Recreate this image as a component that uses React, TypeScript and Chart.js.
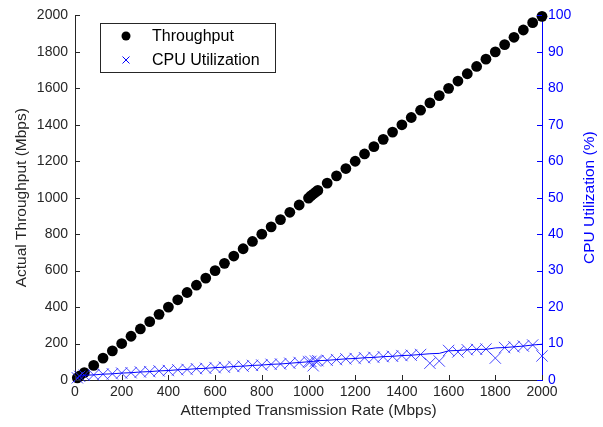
import React, { useEffect, useRef } from "react";
import { Chart, registerables } from "chart.js";

Chart.register(...registerables);

const attemptedRate = [10, 20, 40, 80, 120, 160, 200, 240, 280, 320, 360, 400, 440, 480, 520, 560, 600, 640, 680, 720, 760, 800, 840, 880, 920, 960, 1000, 1010, 1020, 1030, 1040, 1080, 1120, 1160, 1200, 1240, 1280, 1320, 1360, 1400, 1440, 1480, 1520, 1560, 1600, 1640, 1680, 1720, 1760, 1800, 1840, 1880, 1920, 1960, 2000];

const throughput = [12, 22, 41, 80, 120, 160, 200, 240, 280, 320, 360, 400, 440, 480, 520, 559, 600, 640, 680, 720, 760, 800, 840, 880, 920, 960, 998, 1010, 1020, 1030, 1040, 1080, 1120, 1160, 1200, 1240, 1280, 1320, 1360, 1400, 1440, 1480, 1520, 1560, 1600, 1640, 1680, 1720, 1760, 1800, 1840, 1880, 1920, 1960, 1995];

const cpuUtil = [0.6, 1.0, 1.3, 1.4, 1.6, 1.7, 1.9, 2.0, 2.2, 2.3, 2.5, 2.6, 2.8, 2.9, 3.1, 3.2, 3.4, 3.5, 3.7, 3.8, 4.0, 4.1, 4.3, 4.4, 4.6, 4.8, 5.0, 5.1, 3.9, 5.2, 5.3, 5.4, 5.6, 5.8, 5.9, 6.1, 6.2, 6.4, 6.5, 6.7, 6.8, 7.0, 4.6, 5.2, 8.1, 7.7, 8.3, 8.4, 8.5, 6.0, 8.9, 9.1, 9.3, 9.6, 6.6];

const cpuTrend = [0.6, 1.0, 1.3, 1.4, 1.6, 1.7, 1.9, 2.0, 2.2, 2.3, 2.5, 2.6, 2.8, 2.9, 3.1, 3.2, 3.4, 3.5, 3.7, 3.8, 4.0, 4.1, 4.3, 4.4, 4.6, 4.8, 5.0, 5.1, 5.1, 5.2, 5.3, 5.4, 5.6, 5.8, 5.9, 6.1, 6.2, 6.4, 6.5, 6.7, 6.8, 7.0, 7.2, 7.3, 8.0, 8.1, 8.3, 8.4, 8.4, 8.8, 8.9, 9.1, 9.3, 9.6, 9.8];

const xTickValues = [0, 200, 400, 600, 800, 1000, 1200, 1400, 1600, 1800, 2000];
const leftTickValues = [0, 200, 400, 600, 800, 1000, 1200, 1400, 1600, 1800, 2000];
const rightTickValues = [0, 10, 20, 30, 40, 50, 60, 70, 80, 90, 100];

const legendLabels = ["Throughput", "CPU Utilization"];
const rightTitle = "CPU Utilization (%)";

const FONT = "'Liberation Sans', Arial, Helvetica, sans-serif";
const AXIS_GRAY = "#262626";
const BLUE = "#0000ff";

const inwardTicks = {
  id: "inwardTicks",
  afterDraw(chart: any) {
    const ctx = chart.ctx;
    const { x, y, y1 } = chart.scales;
    const area = chart.chartArea;
    const len = 5;
    ctx.save();
    ctx.lineWidth = 1;
    ctx.strokeStyle = AXIS_GRAY;
    ctx.beginPath();
    xTickValues.forEach((v) => {
      const px = Math.round(x.getPixelForValue(v)) + 0.5;
      ctx.moveTo(px, area.bottom);
      ctx.lineTo(px, area.bottom - len);
    });
    leftTickValues.forEach((v) => {
      const py = Math.round(y.getPixelForValue(v)) + 0.5;
      ctx.moveTo(area.left, py);
      ctx.lineTo(area.left + len, py);
    });
    ctx.stroke();
    ctx.strokeStyle = BLUE;
    ctx.beginPath();
    rightTickValues.forEach((v) => {
      const py = Math.round(y1.getPixelForValue(v)) + 0.5;
      ctx.moveTo(area.right, py);
      ctx.lineTo(area.right - len, py);
    });
    ctx.stroke();
    // right axis title, reading bottom-to-top
    ctx.fillStyle = BLUE;
    ctx.font = `15.5px ${FONT}`;
    ctx.textAlign = "center";
    ctx.textBaseline = "middle";
    ctx.translate(590, (area.top + area.bottom) / 2);
    ctx.rotate(-Math.PI / 2);
    ctx.fillText(rightTitle, 0, 0);
    ctx.restore();
  },
};

const boxLegend = {
  id: "boxLegend",
  afterDraw(chart: any) {
    const ctx = chart.ctx;
    ctx.save();
    const bx = 100.5, by = 23.5, bw = 175, bh = 49;
    ctx.fillStyle = "#ffffff";
    ctx.fillRect(bx, by, bw, bh);
    ctx.strokeStyle = AXIS_GRAY;
    ctx.lineWidth = 1;
    ctx.strokeRect(bx, by, bw, bh);
    ctx.fillStyle = "#000000";
    ctx.beginPath();
    ctx.arc(126, 36, 4.5, 0, Math.PI * 2);
    ctx.fill();
    ctx.strokeStyle = BLUE;
    ctx.beginPath();
    ctx.moveTo(122.5, 56.5);
    ctx.lineTo(129.5, 63.5);
    ctx.moveTo(129.5, 56.5);
    ctx.lineTo(122.5, 63.5);
    ctx.stroke();
    ctx.fillStyle = "#000000";
    ctx.font = `16px ${FONT}`;
    ctx.textBaseline = "middle";
    ctx.textAlign = "left";
    ctx.fillText(legendLabels[0], 152, 37);
    ctx.fillText(legendLabels[1], 152, 61);
    ctx.restore();
  },
};

const plain = (v: any) => String(v);

export default function App() {
  const ref = useRef<HTMLCanvasElement>(null);
  useEffect(() => {
    const canvas = ref.current!;
    Chart.defaults.font.family = FONT;
    const chart = new Chart(canvas, {
      type: "scatter",
      data: {
        datasets: [
          {
            label: legendLabels[0],
            data: attemptedRate.map((v, i) => ({ x: v, y: throughput[i] })),
            yAxisID: "y",
            pointStyle: "circle",
            pointRadius: 5.4,
            backgroundColor: "#000000",
            borderColor: "#000000",
            borderWidth: 0,
            showLine: false,
            order: 2,
            clip: false,
          } as any,
          {
            label: legendLabels[1],
            data: attemptedRate.map((v, i) => ({ x: v, y: cpuUtil[i] })),
            yAxisID: "y1",
            pointStyle: "crossRot",
            pointRadius: 8,
            borderColor: "rgba(40,40,255,0.85)",
            backgroundColor: "rgba(0,0,0,0)",
            borderWidth: 1,
            showLine: false,
            order: 1,
            clip: false,
          } as any,
          {
            label: "trend",
            data: attemptedRate.map((v, i) => ({ x: v, y: cpuTrend[i] })),
            yAxisID: "y1",
            pointRadius: 0,
            borderColor: BLUE,
            borderWidth: 1,
            showLine: true,
            fill: false,
            order: 0,
            clip: false,
          } as any,
        ],
      },
      options: {
        responsive: false,
        animation: false,
        events: [],
        layout: { padding: { top: 12, left: 0, right: 0, bottom: 0 } },
        plugins: {
          legend: { display: false },
          tooltip: { enabled: false },
        },
        scales: {
          x: {
            type: "linear",
            min: 0,
            max: 2000,
            afterFit: (s: any) => { s.height = 47; },
            afterBuildTicks: (s: any) => { s.ticks = xTickValues.map((v) => ({ value: v })); },
            ticks: { color: AXIS_GRAY, font: { size: 14 }, padding: 4, maxRotation: 0, autoSkip: false, callback: plain },
            grid: { display: false, drawTicks: false },
            border: { display: true, color: AXIS_GRAY, width: 1 },
            title: { display: true, text: "Attempted Transmission Rate (Mbps)", color: AXIS_GRAY, font: { size: 15.5 }, padding: { top: 0, bottom: 7 } },
          },
          y: {
            type: "linear",
            position: "left",
            min: 0,
            max: 2000,
            afterFit: (s: any) => { s.width = 75; },
            afterBuildTicks: (s: any) => { s.ticks = leftTickValues.map((v) => ({ value: v })); },
            ticks: { color: AXIS_GRAY, font: { size: 14 }, padding: 7, autoSkip: false, callback: plain },
            grid: { display: false, drawTicks: false },
            border: { display: true, color: AXIS_GRAY, width: 1 },
            title: { display: true, text: "Actual Throughput (Mbps)", color: AXIS_GRAY, font: { size: 15.5 }, padding: { top: 12, bottom: 0 } },
          },
          y1: {
            type: "linear",
            position: "right",
            min: 0,
            max: 100,
            afterFit: (s: any) => { s.width = 61; },
            afterBuildTicks: (s: any) => { s.ticks = rightTickValues.map((v) => ({ value: v })); },
            ticks: { color: BLUE, font: { size: 14 }, padding: 6, autoSkip: false, callback: plain },
            grid: { display: false, drawTicks: false },
            border: { display: true, color: BLUE, width: 1 },
            title: { display: false },
          },
        },
      } as any,
      plugins: [inwardTicks, boxLegend],
    });
    return () => chart.destroy();
  }, []);
  return (
    <div style={{ position: "absolute", left: 0, top: 0, width: 603, height: 427, background: "#fff" }}>
      <canvas ref={ref} width={603} height={427} style={{ display: "block" }} />
    </div>
  );
}
